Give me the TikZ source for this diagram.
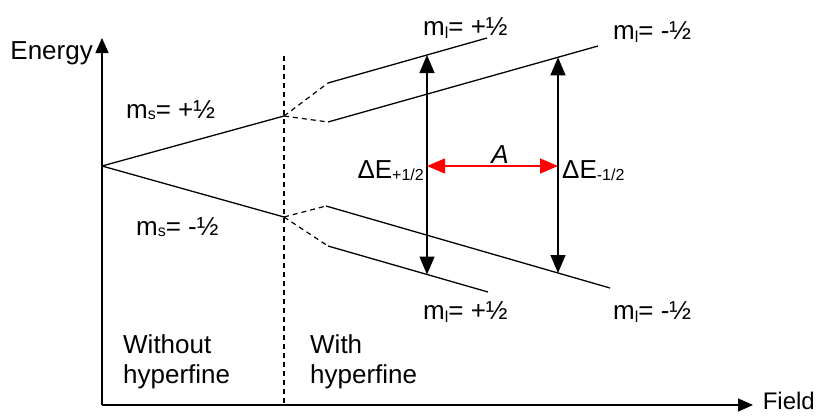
\documentclass[tikz,border=0pt]{standalone}
\usepackage{fontspec}
\setmainfont{Liberation Sans}
\usetikzlibrary{arrows.meta}
\newcommand\lowsub[2]{\raisebox{-#1}{\fontsize{16}{16}\selectfont #2}}
\begin{document}
\begin{tikzpicture}[x=1pt,y=-1pt,
  every node/.style={inner sep=0pt},
  lbl/.style={font=\fontsize{26}{30}\selectfont, anchor=base west},
  lvl/.style={line width=1.3pt},
  dashline/.style={line width=1.2pt, dash pattern=on 5pt off 4pt},
  axis/.style={line width=1.4pt, -{Triangle[length=15pt,width=13pt]}},
  gap/.style={line width=1.3pt, {Triangle[length=18pt,width=15pt]}-{Triangle[length=18pt,width=15pt]}},
  redgap/.style={gap, red}]
\useasboundingbox (0,0) rectangle (819,416);
% axes
\coordinate (orig) at (102,405);
\coordinate (ytop) at (102,38);
\coordinate (xend) at (753,405);
\draw[axis] (orig) -- (ytop);
\draw[axis] (orig) -- (xend);
\node[lbl, anchor=base east] (energy) at (93,59) {Energy};
\node[lbl, anchor=base east, font=\fontsize{24}{28}\selectfont] (field) at (815,409) {Field};
% divider
\coordinate (dtop) at (284,56);
\coordinate (dbot) at (284,405);
\draw[dashline] (dtop) -- (dbot);
% levels
\coordinate (O) at (102,166);
\coordinate (U) at (284,116);
\coordinate (L) at (284,217);
\coordinate (UA) at (328,83);  \coordinate (UAe) at (487,38);
\coordinate (UB) at (328,122); \coordinate (UBe) at (598,46);
\coordinate (LA) at (326,206); \coordinate (LAe) at (610,288);
\coordinate (LB) at (328,246); \coordinate (LBe) at (488,292);
\draw[lvl] (O) -- (U);
\draw[lvl] (O) -- (L);
\draw[dashline] (U) -- (UA);
\draw[dashline] (U) -- (UB);
\draw[dashline] (L) -- (LA);
\draw[dashline] (L) -- (LB);
\draw[lvl] (UA) -- (UAe);
\draw[lvl] (UB) -- (UBe);
\draw[lvl] (LA) -- (LAe);
\draw[lvl] (LB) -- (LBe);
% transition arrows
\coordinate (p1t) at (427,55);
\coordinate (p1b) at (427,274.5);
\coordinate (p2t) at (558,57.3);
\coordinate (p2b) at (558,273);
\draw[gap] (p1t) -- (p1b);
\draw[gap] (p2t) -- (p2b);
\coordinate (a1) at (427,166);
\coordinate (a2) at (558,166);
\draw[redgap] (a1) -- (a2);
\node[lbl, anchor=base] (A) at (500,163) {\itshape A};
\node[lbl, anchor=base east] (dEp) at (424,178) {ΔE\lowsub{2.5pt}{+1/2}};
\node[lbl] (dEm) at (562,178) {ΔE\lowsub{2.5pt}{-1/2}};
% labels
\node[lbl] (msp) at (126,118) {m\lowsub{1pt}{s}= +½};
\node[lbl] (msm) at (136,235) {m\lowsub{1pt}{s}= -½};
\node[lbl] (mltp) at (423,35) {m\lowsub{3pt}{l}= +½};
\node[lbl] (mltm) at (613,39) {m\lowsub{3pt}{l}= -½};
\node[lbl] (mlbp) at (423,319) {m\lowsub{3pt}{l}= +½};
\node[lbl] (mlbm) at (613,319) {m\lowsub{3pt}{l}= -½};
\node[lbl, align=left, anchor=north west] (wo) at (123,334) {Without\\hyperfine};
\node[lbl, align=left, anchor=north west] (wi) at (310,334) {With\\hyperfine};
\end{tikzpicture}
\end{document}
